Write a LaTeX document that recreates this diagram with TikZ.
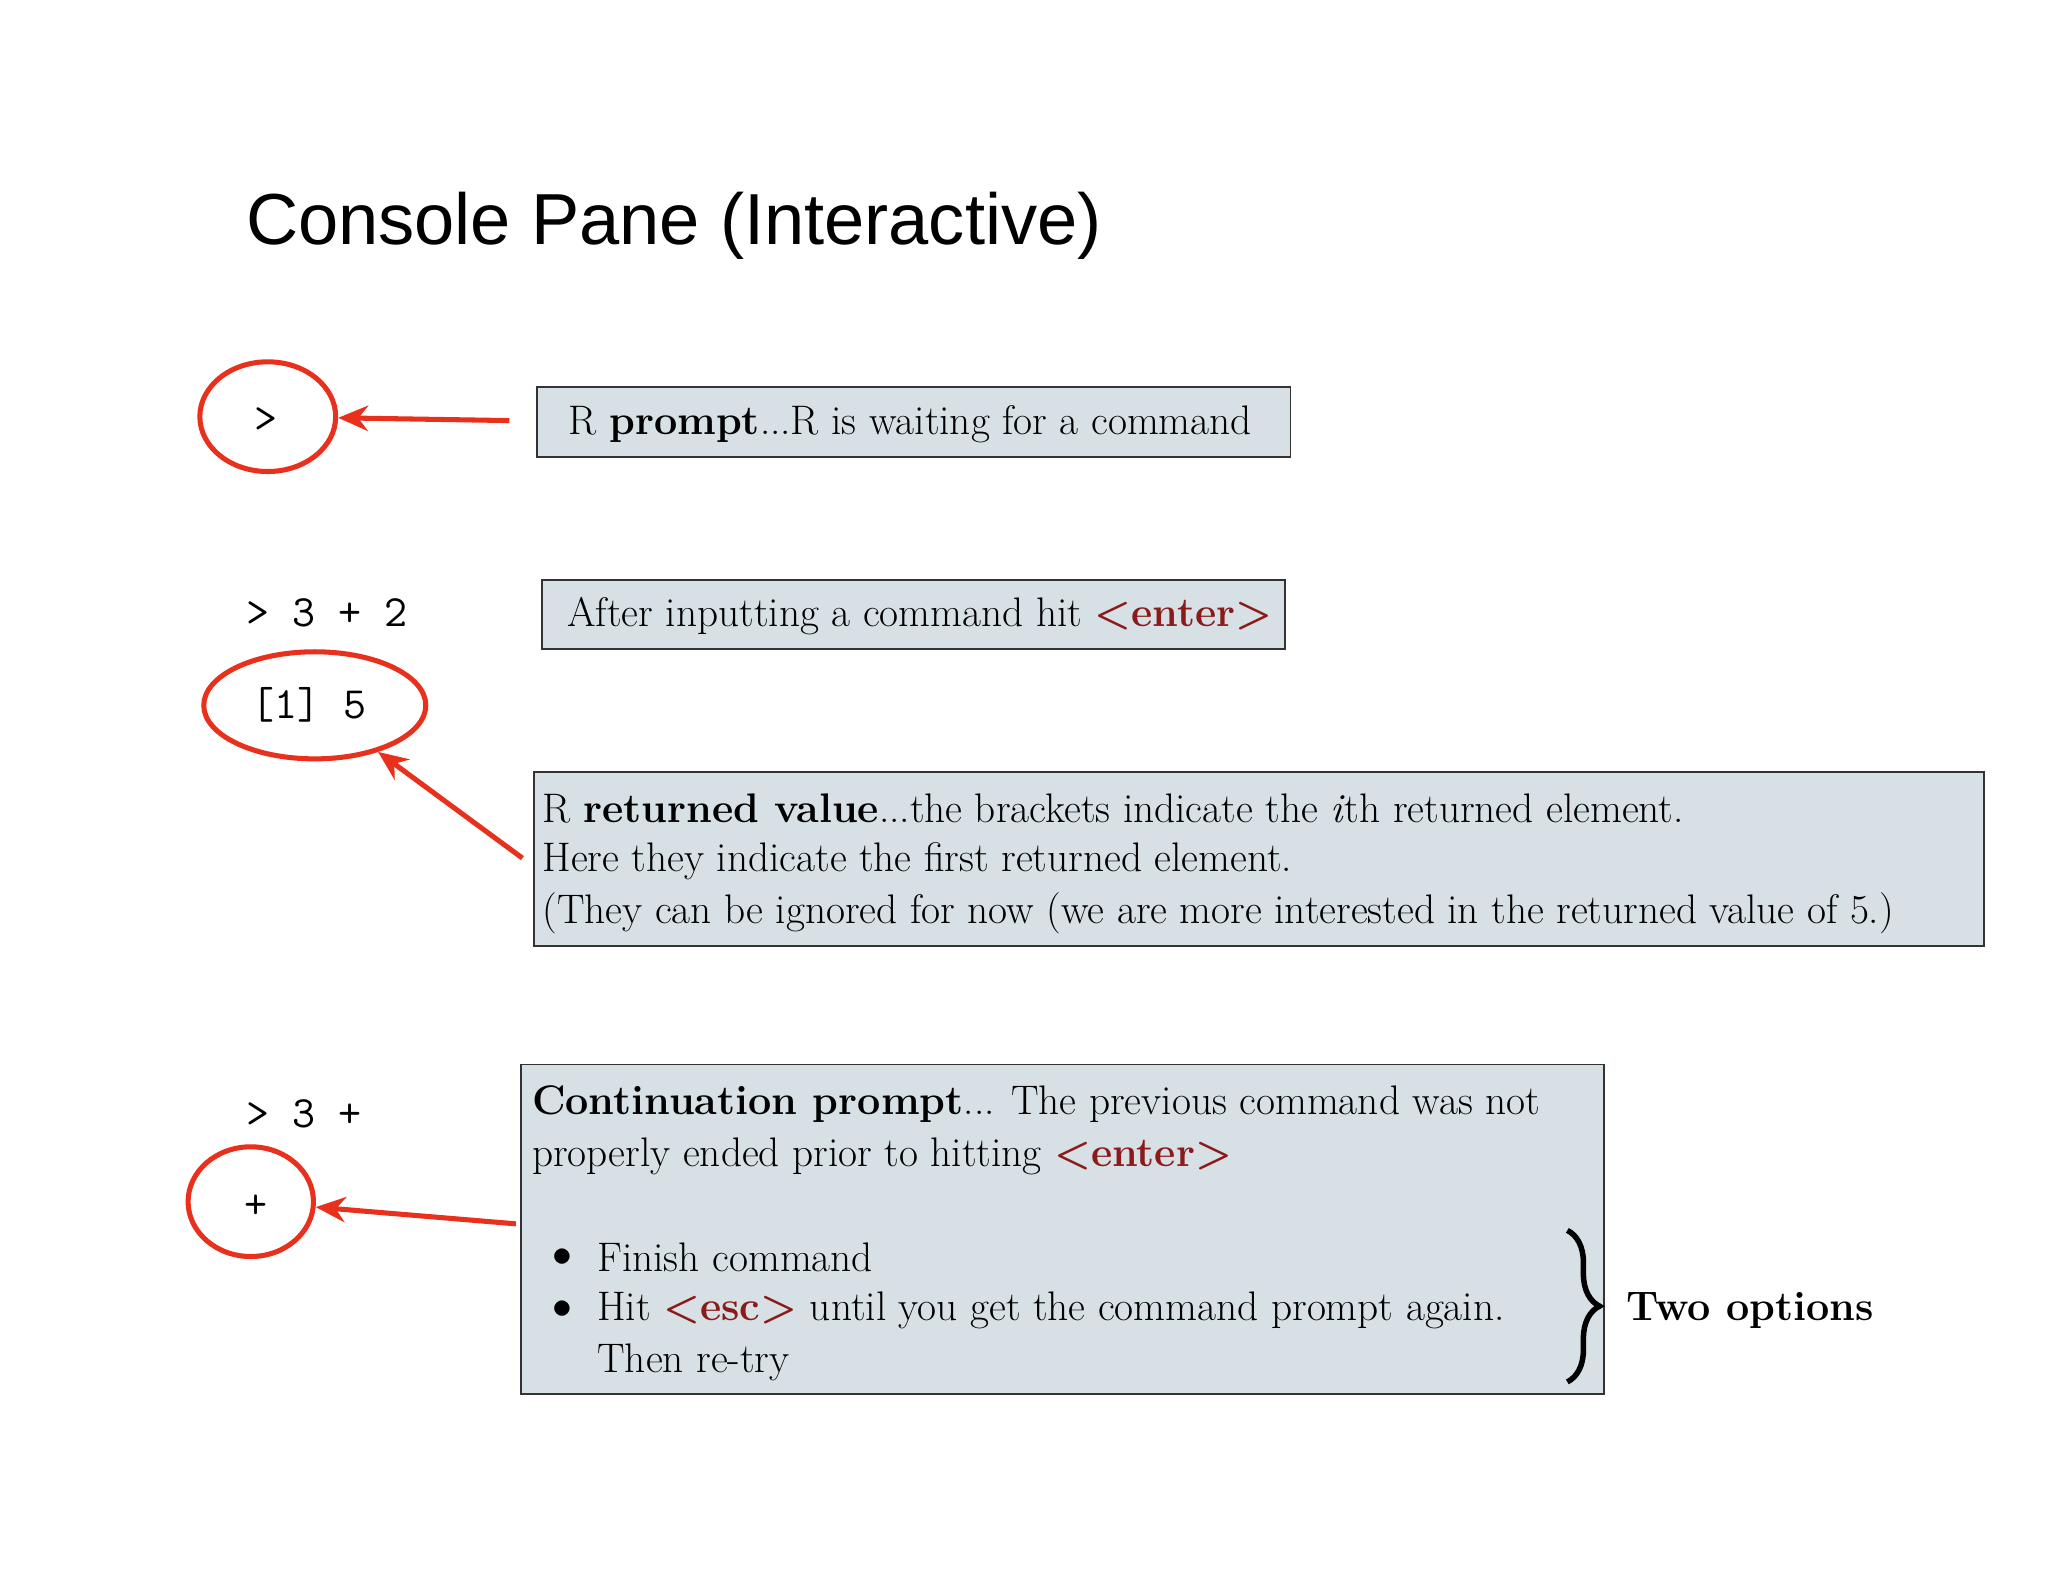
\documentclass[tikz,border=0pt]{standalone}
\usepackage{fontspec}
\usetikzlibrary{shapes.geometric,arrows.meta,decorations.pathreplacing}
\newfontfamily\titlefont{Liberation Sans}
\definecolor{boxfill}{HTML}{D6E0E5}
\definecolor{redline}{HTML}{E8301C}
\definecolor{darkred}{HTML}{8B1A1A}
\tikzset{
  infobox/.style={draw=black!80, line width=0.8pt, fill=boxfill},
  body/.style={font=\fontsize{18}{23}\selectfont, anchor=west, inner sep=0pt},
  code/.style={font=\fontsize{19.5}{23}\ttfamily, inner sep=0pt},
  ring/.style={ellipse, draw=redline, line width=2.2pt},
  pointer/.style={draw=redline, line width=2.2pt, -{Stealth[length=13pt,width=11pt]}},
}
\newcommand{\kbd}[1]{\textcolor{darkred}{\textbf{<#1>}}}
\begin{document}
\begin{tikzpicture}[x=0.02cm,y=-0.02cm]
\useasboundingbox[fill=white] (0,0) rectangle (1568,1211);
\node[anchor=base west, inner sep=0pt, font=\titlefont\fontsize{31.5}{40}\selectfont] (title) at (188,187) {Console Pane (Interactive)};

% row 1
\node[code] (p1) at (204,322) {>};
\filldraw[infobox] (411,296) rectangle (988,350);
\node[body] (t1) at (435,325) {R \textbf{prompt}...R is waiting for a command};
\coordinate (a1) at (390,322);

% row 2
\node[code, anchor=west] (c2) at (188,469) {> 3 + 2};
\node[code, anchor=west] (o2) at (192,540) {[1] 5};
\filldraw[infobox] (415,444) rectangle (984,497);
\node[body] (t2) at (434,472) {After inputting a command hit \kbd{enter}};
\filldraw[infobox] (409,591) rectangle (1519,724);
\node[body] (t3a) at (415,619) {R \textbf{returned value}...the brackets indicate the \textit{i}th returned element.};
\node[body] (t3b) at (415,659) {Here they indicate the first returned element.};
\node[body] (t3c) at (415,699) {(They can be ignored for now (we are more interested in the returned value of 5.)};
\coordinate (a2) at (400,657);

% row 3
\node[code, anchor=west] (c3) at (188,853) {> 3 +};
\node[code] (p3) at (196,924) {+};
\filldraw[infobox] (399,815) rectangle (1228,1067);
\node[body] (t4a) at (407,845) {\textbf{Continuation prompt}... The previous command was not};
\node[body] (t4b) at (407,885) {properly ended prior to hitting \kbd{enter}};
\node[body] (b1) at (423,963) {$\bullet$};
\node[body] (b2) at (423,1003) {$\bullet$};
\node[body] (t4c) at (457,963) {Finish command};
\node[body] (t4d) at (457,1003) {Hit \kbd{esc} until you get the command prompt again.};
\node[body] (t4e) at (457,1043) {Then re-try};
\coordinate (bt) at (1200,942);
\coordinate (bb) at (1200,1058);
\coordinate (a3) at (395,937);
\draw[line width=2.4pt, decorate, decoration={brace, amplitude=14pt}] (bt) -- (bb);
\node[body] (two) at (1245,1003) {\textbf{Two options}};

\node[ring, minimum width=104*0.02cm, minimum height=84*0.02cm] (e1) at (205,319) {};
\node[ring, minimum width=170*0.02cm, minimum height=82*0.02cm] (e2) at (241,540) {};
\node[ring, minimum width=96*0.02cm, minimum height=84*0.02cm] (e3) at (192,920) {};

\draw[pointer] (a1) -- (e1);
\draw[pointer] (a2) -- (e2);
\draw[pointer] (a3) -- (e3);
\end{tikzpicture}
\end{document}
